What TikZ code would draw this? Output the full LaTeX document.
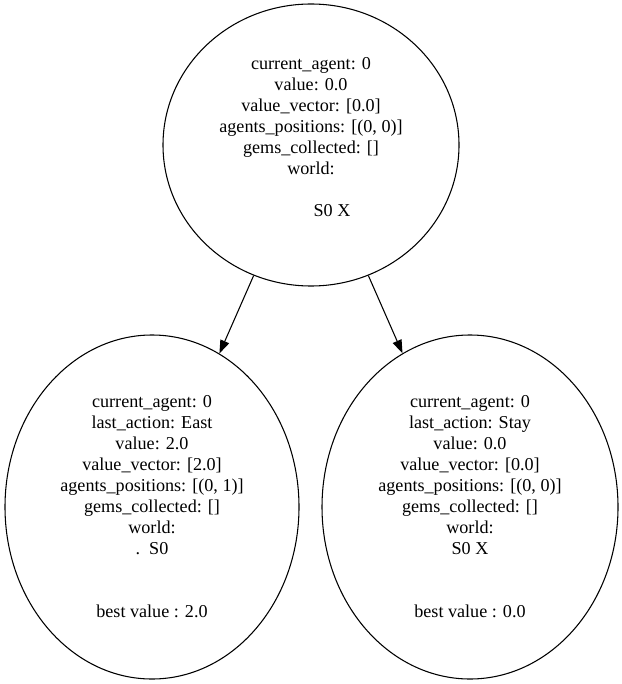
\documentclass[tikz,border=0pt]{standalone}
\usepackage{fontspec}
\setmainfont{Liberation Serif}
\usepackage{tikz}
\usetikzlibrary{arrows.meta,positioning,shapes.geometric}
\tikzset{
  state/.style={draw,ellipse,line width=0.8pt,align=center,inner sep=0pt,font=\fontsize{13.6pt}{15.75pt}\selectfont},
  arr/.style={-{Triangle[length=10pt,width=7pt]},line width=0.8pt},
}

\begin{document}
\begin{tikzpicture}[x=0.75pt,y=-0.75pt]
\useasboundingbox (0,0) rectangle (621,684);
\node[state,minimum width=222pt,minimum height=211.5pt] (root) at (311,145) {current\_agent: 0\\value: 0.0\\value\_vector: [0.0]\\agents\_positions: [(0, 0)]\\gems\_collected: []\\world:\\ \\\hspace*{31.5pt}S0 X\\[-8pt]\strut};
\node[state,minimum width=220.5pt,minimum height=258pt] (east) at (152,507) {current\_agent: 0\\last\_action: East\\value: 2.0\\value\_vector: [2.0]\\agents\_positions: [(0, 1)]\\gems\_collected: []\\world:\\.\ \ S0\\ \\ \\best value : 2.0};
\node[state,minimum width=222pt,minimum height=258pt] (stay) at (470,507) {current\_agent: 0\\last\_action: Stay\\value: 0.0\\value\_vector: [0.0]\\agents\_positions: [(0, 0)]\\gems\_collected: []\\world:\\S0 X\\ \\ \\best value : 0.0};
\draw[arr] (root) -- (east);
\draw[arr] (root) -- (stay);
\end{tikzpicture}
\end{document}
